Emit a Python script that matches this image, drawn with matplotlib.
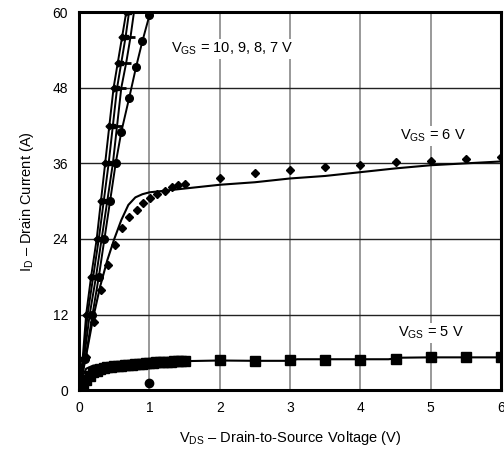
import matplotlib.pyplot as plt

plt.rcParams['font.family'] = ['Liberation Sans', 'DejaVu Sans']
plt.rcParams['mathtext.fontset'] = 'custom'
plt.rcParams['mathtext.rm'] = 'Liberation Sans'

# VGS = 10, 9, 8, 7 V (steep linear-region curves)
v10_x = [0, 0.05, 0.1, 0.17, 0.25, 0.31, 0.37, 0.43, 0.49, 0.55, 0.61, 0.67]
v10_y = [0, 5, 12, 18, 24, 30, 36, 42, 48, 52, 56, 60]
v9_x = [0, 0.06, 0.12, 0.2, 0.28, 0.35, 0.42, 0.48, 0.54, 0.6, 0.66, 0.71]
v9_y = [0, 5, 12, 18, 24, 30, 36, 42, 48, 52, 56, 60]
v8_x = [0, 0.07, 0.15, 0.24, 0.32, 0.4, 0.48, 0.54, 0.6, 0.67, 0.73, 0.78]
v8_y = [0, 5, 12, 18, 24, 30, 36, 42, 48, 52, 56, 60]
v7_x = [0, 0.09, 0.19, 0.28, 0.36, 0.44, 0.52, 0.6, 0.71, 0.81, 0.9, 1.0]
v7_y = [0, 5, 12, 18, 24, 30, 36, 41, 46.3, 51.3, 55.4, 59.5]

# VGS = 6 V
v6_line_x = [0, 0.1, 0.2, 0.3, 0.4, 0.5, 0.6, 0.7, 0.8, 0.9, 1.0, 1.25, 1.5,
             2, 2.5, 3, 3.5, 4, 4.5, 5, 5.5, 6]
v6_line_y = [0, 5.5, 11.5, 16.5, 20.6, 24, 27, 29.4, 30.6, 31.1, 31.4, 31.7,
             32.0, 32.6, 33.0, 33.6, 34.0, 34.6, 35.2, 35.7, 36.0, 36.3]
v6_pts_x = [0, 0.1, 0.21, 0.31, 0.41, 0.51, 0.61, 0.71, 0.82, 0.91, 1.01, 1.11,
            1.22, 1.32, 1.41, 1.51, 2, 2.5, 3, 3.5, 4, 4.5, 5, 5.5, 6]
v6_pts_y = [0, 5.2, 10.8, 15.9, 19.8, 23, 25.7, 27.5, 28.6, 29.7, 30.5, 31.2,
            31.6, 32.2, 32.5, 32.7, 33.7, 34.4, 35.0, 35.5, 35.7, 36.2, 36.3,
            36.7, 37.0]

# VGS = 5 V
v5_line_x = [0, 0.05, 0.1, 0.2, 0.3, 0.5, 0.75, 1.0, 1.5, 2, 2.5, 3, 3.1,
             3.5, 4, 4.4, 4.6, 5, 5.5, 6]
v5_line_y = [0, 2.2, 3.4, 3.9, 4.0, 4.15, 4.3, 4.45, 4.6, 4.7, 4.65, 4.65,
             4.9, 4.9, 4.9, 4.9, 5.15, 5.2, 5.2, 5.2]
v5_pts_x = [0.05, 0.1, 0.15, 0.2, 0.25, 0.3, 0.35, 0.4, 0.45, 0.5, 0.55, 0.6,
            0.65, 0.7, 0.75, 0.8, 0.85, 0.9, 0.95, 1.0, 1.05, 1.1, 1.15, 1.2,
            1.25, 1.3, 1.35, 1.4, 1.45, 1.5, 2, 2.5, 3, 3.5, 4, 4.5, 5, 5.5, 6]
v5_pts_y = [0.8, 1.6, 2.3, 2.8, 3.1, 3.3, 3.5, 3.6, 3.7, 3.8, 3.85, 3.9,
            3.95, 4.0, 4.05, 4.1, 4.15, 4.2, 4.25, 4.3, 4.35, 4.4, 4.4, 4.45,
            4.5, 4.5, 4.55, 4.55, 4.6, 4.6, 4.75, 4.65, 4.85, 4.85, 4.85, 5.0,
            5.2, 5.2, 5.2]

# stray point
odd_x = [1.0]
odd_y = [1.2]

fig = plt.figure(figsize=(5.04, 4.51), dpi=100)
ax = fig.add_axes([0.157, 0.135, 0.837, 0.838])

ax.plot(v10_x, v10_y, color='black', lw=1.4, marker='D', ms=3.5)
ax.plot(v9_x, v9_y, color='black', lw=1.4, marker='s', ms=3.5)
ax.plot(v8_x, v8_y, color='black', lw=1.4, marker='_', ms=7, mew=2)
ax.plot(v7_x, v7_y, color='black', lw=1.4, marker='o', ms=5.5)

ax.plot(v6_line_x, v6_line_y, color='black', lw=1.5)
ax.plot(v6_pts_x, v6_pts_y, ls='none', color='black', marker='D', ms=4.5)

ax.plot(v5_line_x, v5_line_y, color='black', lw=1.5)
ax.plot(v5_pts_x, v5_pts_y, ls='none', color='black', marker='s', ms=6.5)

ax.plot(odd_x, odd_y, ls='none', color='black', marker='o', ms=6)

ax.set_xlim(0, 6)
ax.set_ylim(0, 60)
ax.set_xticks(range(0, 7))
ax.set_yticks(range(0, 61, 12))
ax.tick_params(length=0, labelsize=10, pad=8)
ax.xaxis.grid(True, color='#888888', lw=1.2)
ax.yaxis.grid(True, color='#222222', lw=1.0)
ax.set_axisbelow(True)
for s in ax.spines.values():
    s.set_linewidth(2.2)

ax.set_xlabel(r'V$_{\rm DS}$ – Drain-to-Source Voltage (V)', fontsize=10.5, labelpad=10)
ax.set_ylabel(r'I$_{\rm D}$ – Drain Current (A)', fontsize=10.5, labelpad=12)

ax.text(1.30, 53.6, r'V$_{\rm GS}$ = 10, 9, 8, 7 V', fontsize=10.5,
        bbox=dict(facecolor='white', edgecolor='none', pad=1))
ax.text(4.57, 39.8, r'V$_{\rm GS}$ = 6 V', fontsize=10.5,
        bbox=dict(facecolor='white', edgecolor='none', pad=1))
ax.text(4.54, 8.5, r'V$_{\rm GS}$ = 5 V', fontsize=10.5,
        bbox=dict(facecolor='white', edgecolor='none', pad=1))

fig.savefig('out.png', dpi=100)
